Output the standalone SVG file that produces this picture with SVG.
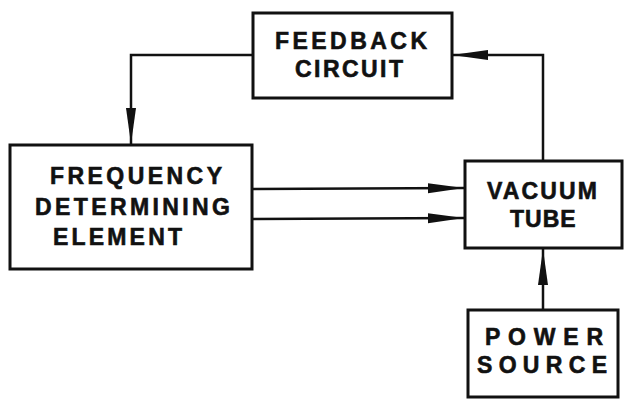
<svg xmlns="http://www.w3.org/2000/svg" width="625" height="400" viewBox="0 0 625 400">
<defs>
<style>
.box{fill:#fff;stroke:#111;stroke-width:3}
.ln{fill:none;stroke:#111;stroke-width:2.5}
.t{font-family:"Liberation Sans",Arial,sans-serif;font-weight:bold;font-size:23px;fill:#111;stroke:#111;stroke-width:0.6}
</style>
<marker id="ah" viewBox="0 0 36 13" refX="36" refY="6.5" markerWidth="36" markerHeight="13" markerUnits="userSpaceOnUse" orient="auto">
<path d="M0,1.5 L36,6.5 L0,11.5 Z" fill="#111"/>
</marker>
</defs>
<rect width="625" height="400" fill="#fff"/>
<g id="connectors">
<polyline class="ln" points="253,55 131,55 131,144" marker-end="url(#ah)"/>
<polyline class="ln" points="543,161 543,55 452,55" marker-end="url(#ah)"/>
<line class="ln" x1="252" y1="189" x2="464" y2="188" marker-end="url(#ah)"/>
<line class="ln" x1="252" y1="219" x2="464" y2="218" marker-end="url(#ah)"/>
<line class="ln" x1="543" y1="310" x2="543" y2="249" marker-end="url(#ah)"/>
</g>
<g id="feedback">
<rect class="box" x="253" y="13" width="199" height="85"/>
<text class="t" x="275" y="49" textLength="152" lengthAdjust="spacing">FEEDBACK</text>
<text class="t" x="295" y="77" textLength="108" lengthAdjust="spacing">CIRCUIT</text>
</g>
<g id="frequency">
<rect class="box" x="10" y="145" width="242" height="124"/>
<text class="t" x="50" y="184" textLength="172" lengthAdjust="spacing">FREQUENCY</text>
<text class="t" x="35" y="215" textLength="195" lengthAdjust="spacing">DETERMINING</text>
<text class="t" x="53" y="245" textLength="129" lengthAdjust="spacing">ELEMENT</text>
</g>
<g id="vacuum">
<rect class="box" x="465" y="161" width="157" height="87"/>
<text class="t" x="487" y="199" textLength="110" lengthAdjust="spacing">VACUUM</text>
<text class="t" x="510" y="227" letter-spacing="1">TUBE</text>
</g>
<g id="power">
<rect class="box" x="468" y="310" width="150" height="87"/>
<text class="t" x="485" y="345" textLength="118" lengthAdjust="spacing">POWER</text>
<text class="t" x="477" y="373" textLength="130" lengthAdjust="spacing">SOURCE</text>
</g>
</svg>
